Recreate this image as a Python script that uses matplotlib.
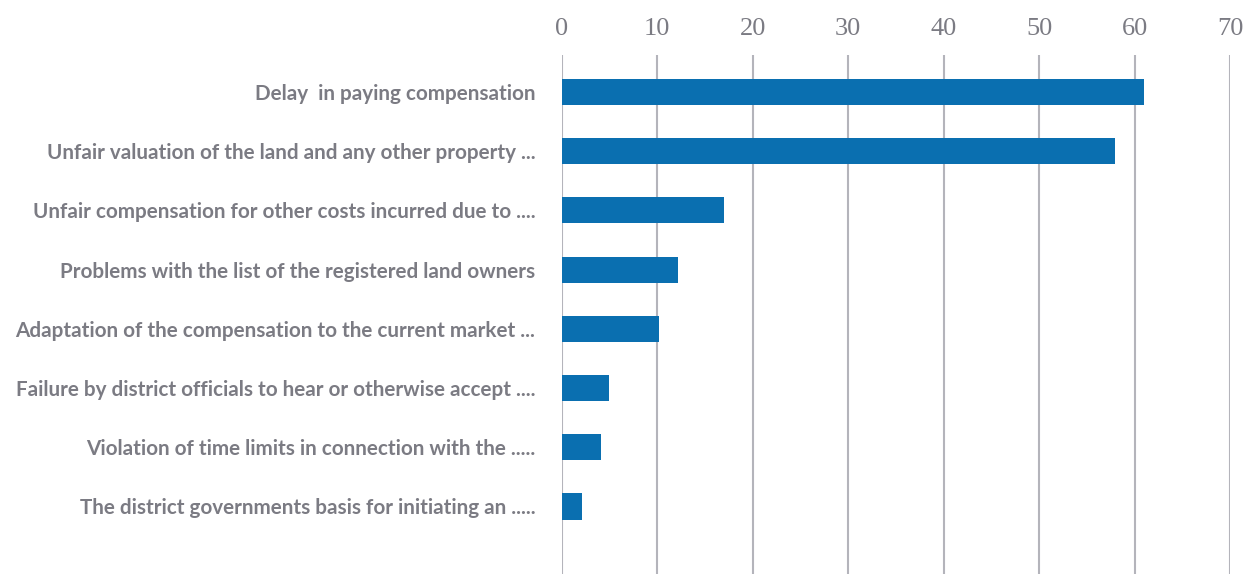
import matplotlib
matplotlib.use("Agg")
import matplotlib.pyplot as plt

# Reasons for complaints, top to bottom
reasons = [
    "Delay  in paying compensation",
    "Unfair valuation of the land and any other property ...",
    "Unfair compensation for other costs incurred due to ....",
    "Problems with the list of the registered land owners",
    "Adaptation of the compensation to the current market ...",
    "Failure by district officials to hear or otherwise accept ....",
    "Violation of time limits in connection with the .....",
    "The district governments basis for initiating an .....",
]
shares = [61, 58, 17, 12.2, 10.2, 4.9, 4.1, 2.1]
x_ticks = [0, 10, 20, 30, 40, 50, 60, 70]

bar_color = "#0a6fb0"
grid_color = "#b4b4bb"
label_color = "#7b7b83"

fig = plt.figure(figsize=(12.43, 5.74), dpi=100)
ax = fig.add_axes([0.452, 0.0, 0.9895 - 0.452, 1 - 55 / 574])

positions = list(range(len(reasons)))
ax.barh(positions, shares, height=0.44, color=bar_color, zorder=3)

ax.set_xlim(0, 70)
ax.set_ylim(8.14, -0.625)
ax.set_xticks(x_ticks)
ax.set_xticklabels([str(t) for t in x_ticks], family="Liberation Serif",
                   fontsize=19, color=label_color)
ax.xaxis.tick_top()
ax.tick_params(axis="x", length=0, pad=11)

ax.set_yticks(positions)
ax.set_yticklabels(reasons, family="Lato", fontweight="bold",
                   fontsize=14.9, color=label_color)
ax.tick_params(axis="y", length=0, pad=19)

ax.grid(axis="x", color=grid_color, linewidth=1.5, zorder=0)
for side in ax.spines.values():
    side.set_visible(False)

fig.savefig("out.png", dpi=100)
